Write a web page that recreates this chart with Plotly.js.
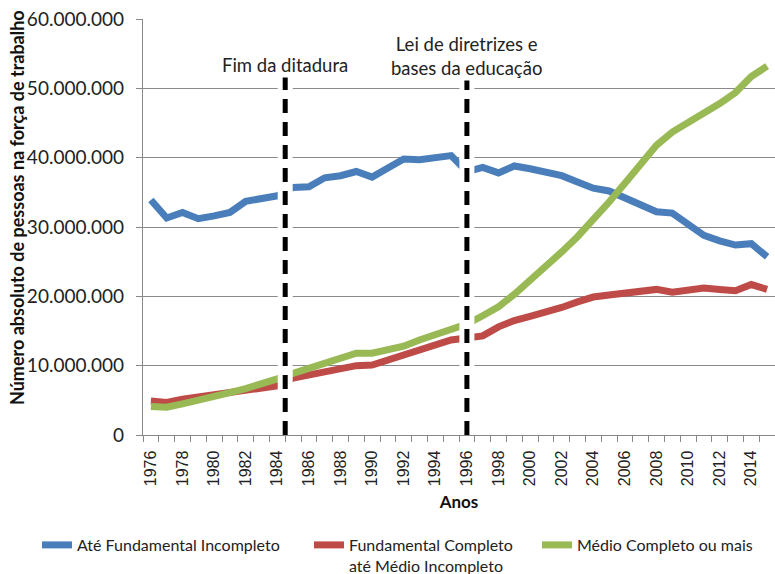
<!DOCTYPE html>
<html>
<head>
<meta charset="utf-8">
<script src="https://cdn.plot.ly/plotly-3.0.1.min.js"></script>
<style>html,body{margin:0;padding:0;background:#fff;}#chart{width:775px;height:574px;}</style>
</head>
<body>
<div id="chart"></div>
<script>
const years = [1976,1977,1978,1979,1980,1981,1982,1983,1984,1985,1986,1987,1988,1989,1990,1991,1992,1993,1994,1995,1996,1997,1998,1999,2000,2001,2002,2003,2004,2005,2006,2007,2008,2009,2010,2011,2012,2013,2014,2015];

const ateFundamentalIncompleto = [33.9,31.3,32.1,31.2,31.6,32.1,33.7,34.0,34.5,35.7,35.8,37.1,37.4,38.0,37.2,38.5,39.8,39.7,40.0,40.3,38.0,38.6,37.8,38.8,38.4,38.0,37.4,36.5,35.6,35.2,34.2,33.2,32.2,32.0,30.5,28.8,28.0,27.4,27.6,25.7].map(v => v * 1e6);

const fundamentalCompleto = [4.9,4.7,5.15,5.5,5.8,6.2,6.4,6.7,7.1,8.2,8.7,9.0,9.5,10.0,10.1,10.8,11.5,12.3,13.0,13.7,14.0,14.3,15.6,16.5,17.1,17.7,18.4,19.2,19.9,20.2,20.4,20.8,21.0,20.6,20.9,21.2,21.0,20.8,21.7,21.0].map(v => v * 1e6);

const medioCompleto = [4.1,4.0,4.5,5.0,5.4,6.1,6.7,7.3,8.1,8.9,9.6,10.3,11.1,11.8,11.8,12.3,12.8,13.7,14.4,15.1,16.0,17.2,18.5,20.3,22.3,24.2,26.4,28.6,31.0,33.6,36.3,38.9,41.8,43.7,45.0,46.3,47.8,49.4,51.7,53.2].map(v => v * 1e6);

const seriesNames = ['Até Fundamental Incompleto', 'Fundamental Completo<br>até Médio Incompleto', 'Médio Completo ou mais'];
const seriesColors = ['#4A7EBB', '#BE4B48', '#98B954'];

const xTickYears = [1976,1978,1980,1982,1984,1986,1988,1990,1992,1994,1996,1998,2000,2002,2004,2006,2008,2010,2012,2014];
const xTickText = xTickYears.map(String);
const boundaryTicks = [];
for (let y = 1975.5; y <= 2015.5; y += 1) boundaryTicks.push(y);
const yTickVals = [0,10e6,20e6,30e6,40e6,50e6,60e6];

const eventYears = [1984.5, 1996];
const eventLabels = ['Fim da ditadura', 'Lei de diretrizes e<br>bases da educação'];
const eventLabelY = [53.4e6, 54.7e6];

const legendIds = ['legend', 'legend2', 'legend3'];
const legendLeft = [37, 309, 537];

const traces = [ateFundamentalIncompleto, fundamentalCompleto, medioCompleto].map((vals, i) => ({
  x: years, y: vals, type: 'scatter', mode: 'lines', name: seriesNames[i], legend: legendIds[i],
  line: {color: seriesColors[i], width: 7}
}));
// overlay axis used only for the boundary tick marks
traces.push({x: [1975.5, 2015.5], y: [null, null], xaxis: 'x2', yaxis: 'y', showlegend: false, hoverinfo: 'skip', mode: 'lines'});

const shapes = [];
eventYears.forEach(x => {
  shapes.push({type: 'line', xref: 'x', yref: 'y', x0: x, x1: x, y0: 0, y1: 51.8e6, layer: 'above',
    line: {color: '#ffffff', width: 15}});
  shapes.push({type: 'line', xref: 'x', yref: 'y', x0: x, x1: x, y0: 0, y1: 51.8e6, layer: 'above',
    line: {color: '#000000', width: 5, dash: '14px,9px'}});
});

const annotations = eventYears.map((x, i) => ({
  x: x, y: eventLabelY[i], xref: 'x', yref: 'y', text: eventLabels[i], showarrow: false,
  font: {family: 'Lato, sans-serif', size: 18.5, color: '#222'}, bgcolor: '#ffffff', align: 'center'
}));
annotations.push({
  text: '<b>Número absoluto de pessoas na força de trabalho</b>', xref: 'paper', yref: 'paper',
  x: (17 - 143) / 632, y: (435 - 208) / 416, xanchor: 'center', yanchor: 'middle', textangle: -90, showarrow: false,
  font: {family: 'Lato, sans-serif', size: 18, color: '#111'}
});

const layout = {
  width: 775, height: 574,
  margin: {l: 143, r: 0, t: 19, b: 139, autoexpand: false},
  paper_bgcolor: '#ffffff', plot_bgcolor: '#ffffff',
  separators: ',.',
  showlegend: true,
  xaxis: {
    range: [1975.5, 2015.5], tickmode: 'array', tickvals: xTickYears, ticktext: xTickText,
    tickangle: -90, ticks: '', ticklabelstandoff: 8, showgrid: false, zeroline: false,
    showline: true, linecolor: '#888888', linewidth: 1.2, automargin: false,
    tickfont: {family: 'Liberation Sans, Arial, sans-serif', size: 16, color: '#222'},
    title: {text: '<b>Anos</b>', font: {family: 'Lato, sans-serif', size: 17, color: '#111'}, standoff: 11}
  },
  xaxis2: {
    overlaying: 'x', matches: 'x', range: [1975.5, 2015.5], tickmode: 'array', tickvals: boundaryTicks,
    ticks: 'outside', ticklen: 6, tickcolor: '#888888', tickwidth: 1, showticklabels: false,
    showgrid: false, zeroline: false, showline: false, side: 'bottom', anchor: 'y'
  },
  yaxis: {
    range: [0, 60e6], tickmode: 'array', tickvals: yTickVals, tickformat: ',d', automargin: false,
    ticks: 'outside', ticklen: 6, tickcolor: '#888888', showgrid: true, gridcolor: '#8a8a8a', gridwidth: 1,
    zeroline: false, showline: true, linecolor: '#888888', linewidth: 1.2, ticklabelstandoff: 8,
    tickfont: {family: 'Lato, sans-serif', size: 19, color: '#222'}
  },
  shapes: shapes,
  annotations: annotations
};
legendIds.forEach((id, i) => {
  layout[id] = {orientation: 'h', xref: 'container', yref: 'container', x: legendLeft[i] / 775, xanchor: 'left',
    y: 1 - 528 / 574, yanchor: 'top', valign: 'top',
    font: {family: 'Lato, sans-serif', size: 16, color: '#222'}};
});

Plotly.newPlot('chart', traces, layout, {displayModeBar: false, staticPlot: true});
</script>
</body>
</html>
